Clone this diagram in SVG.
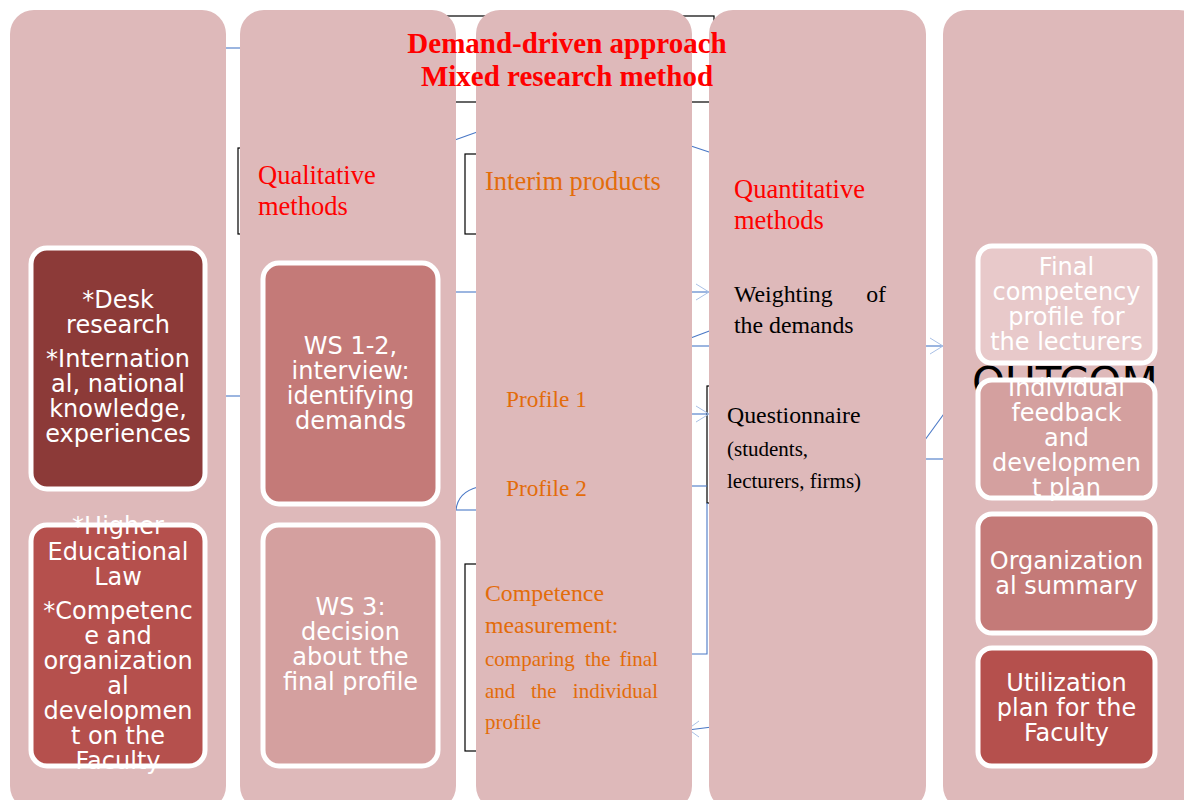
<svg xmlns="http://www.w3.org/2000/svg" width="1184" height="800" viewBox="0 0 1184 800">
<style>
.col{fill:#DEB9BA}
.box{stroke:#FFFFFF;stroke-width:5}
.bl{fill:none;stroke:#000000;stroke-width:1.2}
.ln{fill:none;stroke:#4A78C6;stroke-width:1.1}
.wg{fill:none;stroke:#A9C0E6;stroke-width:1}
.w{font-family:"DejaVu Sans",sans-serif;font-size:24px;fill:#FFFFFF;text-anchor:middle}
.s{font-family:"Liberation Serif","Times New Roman",serif}
.red{fill:#FF0000}
.or{fill:#E36C0A}
.blk{fill:#000000}
</style>
<rect width="1184" height="800" fill="#FFFFFF"/>
<g id="frames">
<rect class="bl" x="400" y="16" width="314" height="86"/>
<rect class="bl" x="238" y="148" width="80" height="86"/>
<rect class="bl" x="465" y="154" width="60" height="80"/>
<rect class="bl" x="707" y="386" width="60" height="117"/>
<rect class="bl" x="465" y="564" width="60" height="187"/>
</g>
<g id="connectors">
<line class="ln" x1="222" y1="48" x2="244" y2="48"/>
<line class="ln" x1="222" y1="396" x2="244" y2="396"/>
<line class="ln" x1="452" y1="292" x2="480" y2="292"/>
<line class="ln" x1="452" y1="141" x2="480" y2="131"/>
<line class="ln" x1="452" y1="510" x2="480" y2="510"/>
<path class="ln" d="M456,510 Q458,492 478,487"/>
<line class="ln" x1="688" y1="145" x2="712" y2="153"/>
<line class="ln" x1="688" y1="292" x2="709" y2="292"/>
<polyline class="wg" points="696,284 709,292 696,300"/>
<line class="ln" x1="688" y1="339" x2="712" y2="330"/>
<line class="ln" x1="688" y1="346" x2="712" y2="346"/>
<line class="ln" x1="688" y1="414" x2="709" y2="414"/>
<polyline class="wg" points="696,406 709,414 696,422"/>
<line class="ln" x1="688" y1="486" x2="707" y2="486"/>
<polyline class="ln" points="707,503 707,654 688,654"/>
<line class="ln" x1="688" y1="730" x2="712" y2="727"/>
<polyline class="wg" points="699,721 688,729 699,737"/>
<line class="ln" x1="922" y1="346" x2="943" y2="346"/>
<polyline class="wg" points="930,338 943,346 930,354"/>
<line class="ln" x1="922" y1="444" x2="946" y2="411"/>
<line class="ln" x1="922" y1="459" x2="946" y2="459"/>
</g>
<g id="col1"><rect class="col" x="10" y="10" width="216" height="800" rx="24"/></g>
<g id="col2"><rect class="col" x="240" y="10" width="216" height="800" rx="24"/>
<text class="s red" font-size="26.5" x="258" y="184">Qualitative</text>
<text class="s red" font-size="26.5" x="258" y="215">methods</text></g>
<g id="col3"><rect class="col" x="476" y="10" width="216" height="800" rx="24"/>
<text class="s or" font-size="26.5" x="485" y="190">Interim products</text>
<text class="s or" font-size="23.3" x="506" y="407">Profile 1</text>
<text class="s or" font-size="23.3" x="506" y="496">Profile 2</text>
<text class="s or" font-size="23.8" x="485" y="601">Competence</text>
<text class="s or" font-size="23.8" x="485" y="633">measurement:</text>
<text class="s or" font-size="21" x="485" y="666">comparing</text>
<text class="s or" font-size="21" x="585" y="666">the</text>
<text class="s or" font-size="21" x="658" y="666" text-anchor="end">final</text>
<text class="s or" font-size="21" x="485" y="698">and</text>
<text class="s or" font-size="21" x="531" y="698">the</text>
<text class="s or" font-size="21" x="658" y="698" text-anchor="end">individual</text>
<text class="s or" font-size="21" x="485" y="729">profile</text></g>
<g id="col4"><rect class="col" x="709" y="10" width="217" height="800" rx="24"/>
<text class="s red" font-size="26.5" x="734" y="198">Quantitative</text>
<text class="s red" font-size="26.5" x="734" y="229">methods</text>
<text class="s blk" font-size="23.8" x="734" y="302">Weighting</text>
<text class="s blk" font-size="23.8" x="886" y="302" text-anchor="end">of</text>
<text class="s blk" font-size="23.8" x="734" y="333">the demands</text>
<text class="s blk" font-size="23.8" x="727" y="423">Questionnaire</text>
<text class="s blk" font-size="21" x="727" y="456">(students,</text>
<text class="s blk" font-size="21" x="727" y="488">lecturers, firms)</text></g>
<g id="col5"><rect class="col" x="943" y="10" width="260" height="800" rx="24"/>
<text font-family="DejaVu Sans,sans-serif" font-size="42" fill="#000000" x="972" y="397">OUTCOM</text></g>
<g id="desk">
<rect class="box" x="31" y="248" width="174" height="241" rx="16" fill="#8C3A38"/>
<text class="w" x="118"><tspan x="118" y="308">*Desk</tspan><tspan x="118" y="333">research</tspan><tspan x="118" y="367">*Internation</tspan><tspan x="118" y="392">al, national</tspan><tspan x="118" y="417">knowledge,</tspan><tspan x="118" y="442">experiences</tspan></text>
</g>
<g id="law">
<rect class="box" x="31" y="525" width="174" height="241" rx="16" fill="#B5504D"/>
<text class="w"><tspan x="118" y="534">*Higher</tspan><tspan x="118" y="560">Educational</tspan><tspan x="118" y="585">Law</tspan><tspan x="118" y="619">*Competenc</tspan><tspan x="118" y="644">e and</tspan><tspan x="118" y="669">organization</tspan><tspan x="118" y="694">al</tspan><tspan x="118" y="719">developmen</tspan><tspan x="118" y="744">t on the</tspan><tspan x="118" y="769">Faculty</tspan></text>
</g>
<g id="ws12">
<rect class="box" x="263" y="263" width="175" height="241" rx="16" fill="#C47A78"/>
<text class="w"><tspan x="350.5" y="354">WS 1-2,</tspan><tspan x="350.5" y="379">interview:</tspan><tspan x="350.5" y="404">identifying</tspan><tspan x="350.5" y="429">demands</tspan></text>
</g>
<g id="ws3">
<rect class="box" x="263" y="525" width="175" height="241" rx="16" fill="#D4A09F"/>
<text class="w"><tspan x="350.5" y="615">WS 3:</tspan><tspan x="350.5" y="640">decision</tspan><tspan x="350.5" y="665">about the</tspan><tspan x="350.5" y="690">final profile</tspan></text>
</g>
<g id="final">
<rect class="box" x="978" y="246" width="177" height="117" rx="14" fill="#E8C9CA"/>
<text class="w"><tspan x="1066.5" y="275">Final</tspan><tspan x="1066.5" y="300">competency</tspan><tspan x="1066.5" y="325">profile for</tspan><tspan x="1066.5" y="350">the lecturers</tspan></text>
</g>
<g id="individual">
<rect class="box" x="978" y="380" width="177" height="118" rx="14" fill="#D4A09F"/>
<text class="w"><tspan x="1066.5" y="396">Individual</tspan><tspan x="1066.5" y="421">feedback</tspan><tspan x="1066.5" y="446">and</tspan><tspan x="1066.5" y="471">developmen</tspan><tspan x="1066.5" y="496">t plan</tspan></text>
</g>
<g id="organizational">
<rect class="box" x="978" y="514" width="177" height="119" rx="14" fill="#C47A78"/>
<text class="w"><tspan x="1066.5" y="569">Organization</tspan><tspan x="1066.5" y="594">al summary</tspan></text>
</g>
<g id="utilization">
<rect class="box" x="978" y="648" width="177" height="118" rx="14" fill="#B5504D"/>
<text class="w"><tspan x="1066.5" y="691">Utilization</tspan><tspan x="1066.5" y="716">plan for the</tspan><tspan x="1066.5" y="741">Faculty</tspan></text>
</g>
<g id="title">
<text class="s red" font-size="29" font-weight="bold" text-anchor="middle" x="567" y="53">Demand-driven approach</text>
<text class="s red" font-size="29" font-weight="bold" text-anchor="middle" x="567" y="86">Mixed research method</text>
</g>
</svg>
